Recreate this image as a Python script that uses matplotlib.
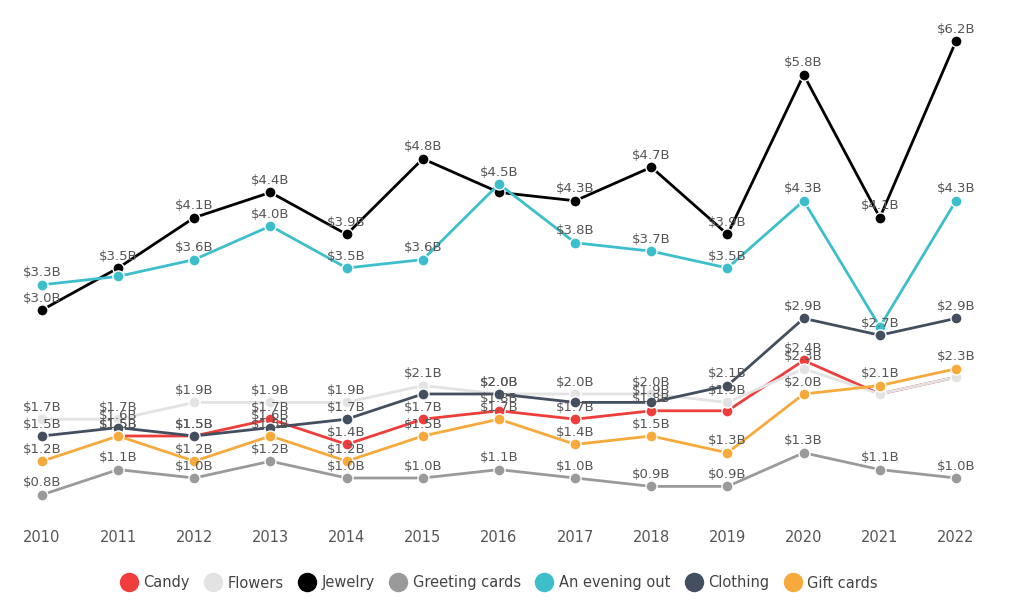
import matplotlib
matplotlib.use("Agg")
import matplotlib.pyplot as plt
from matplotlib.lines import Line2D
import numpy as np

years = list(range(2010, 2023))
series_names = ["Candy", "Flowers", "Jewelry", "Greeting cards", "An evening out", "Clothing", "Gift cards"]
candy = [np.nan, 1.5, 1.5, 1.7, 1.4, 1.7, 1.8, 1.7, 1.8, 1.8, 2.4, 2.0, 2.2]
flowers = [1.7, 1.7, 1.9, 1.9, 1.9, 2.1, 2.0, 2.0, 2.0, 1.9, 2.3, 2.0, 2.2]
jewelry = [3.0, 3.5, 4.1, 4.4, 3.9, 4.8, 4.4, 4.3, 4.7, 3.9, 5.8, 4.1, 6.2]
greeting_cards = [0.8, 1.1, 1.0, 1.2, 1.0, 1.0, 1.1, 1.0, 0.9, 0.9, 1.3, 1.1, 1.0]
evening_out = [3.3, 3.4, 3.6, 4.0, 3.5, 3.6, 4.5, 3.8, 3.7, 3.5, 4.3, 2.8, 4.3]
clothing = [1.5, 1.6, 1.5, 1.6, 1.7, 2.0, 2.0, 1.9, 1.9, 2.1, 2.9, 2.7, 2.9]
gift_cards = [1.2, 1.5, 1.2, 1.5, 1.2, 1.5, 1.7, 1.4, 1.5, 1.3, 2.0, 2.1, 2.3]
series_values = [candy, flowers, jewelry, greeting_cards, evening_out, clothing, gift_cards]
colors = ["#ee3d3b", "#e3e3e3", "#000000", "#9a9a9a", "#3dbfcb", "#434e5f", "#f6aa3c"]

# data labels that the original hides because they collide
hidden_labels = {("An evening out", 2011), ("Clothing", 2015), ("Jewelry", 2016),
                 ("Clothing", 2017), ("Candy", 2019), ("An evening out", 2021),
                 ("Flowers", 2021), ("Candy", 2021), ("Candy", 2022), ("Flowers", 2022)}

plt.rcParams['font.family'] = ['DejaVu Sans']
fig = plt.figure(figsize=(10.24, 6.01), dpi=100)
ax = fig.add_axes([42/1024, 81/601, 914/1024, 500/601])
ax.set_xlim(2010, 2022)
ax.set_ylim(0.5, 6.452)
for s in ax.spines.values():
    s.set_visible(False)
ax.set_yticks([])
ax.set_xticks(years)
ax.tick_params(axis='x', length=0, pad=7, labelsize=10.5, labelcolor="#555555")

for i, (name, vals, c) in enumerate(zip(series_names, series_values, colors)):
    ax.plot(years, vals, color=c, lw=2, marker='o', markersize=8,
            markeredgecolor='white', markeredgewidth=1, clip_on=False, zorder=2 + i)
    for y, v in zip(years, vals):
        if np.isnan(v) or (name, y) in hidden_labels:
            continue
        ax.annotate(f"${v:.1f}B", (y, v), xytext=(0, 8.5), textcoords='offset points',
                    ha='center', va='center', fontsize=9.5, color="#555555",
                    zorder=20, annotation_clip=False)

handles = [Line2D([], [], ls='none', marker='o', markersize=14, color=c, markeredgewidth=0)
           for c in colors]
fig.legend(handles, series_names, loc='center', bbox_to_anchor=(0.488, 1 - 583/601), ncol=7,
           frameon=False, fontsize=10.5, labelcolor="#444444", handletextpad=0.5,
           columnspacing=1.1, handlelength=1.0)

fig.savefig("out.png", dpi=100, facecolor='white')
